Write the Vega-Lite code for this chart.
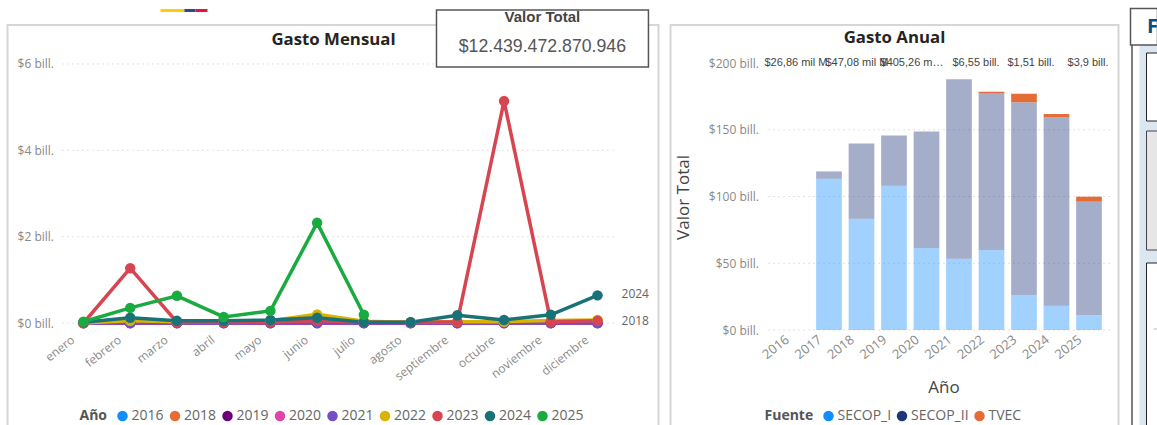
{
"$schema":"https://vega.github.io/schema/vega-lite/v6.json",
"padding":{"left":6.5,"top":7,"right":0,"bottom":0},
"background":"white",
"spacing":10,
"resolve":{"scale":{"color":"independent","opacity":"independent","x":"independent","y":"independent"},"legend":{"color":"independent"}},
"config":{"font":"Open Sans","legend":{"symbolType":"circle","orient":"none","direction":"horizontal","titleOrient":"left","symbolSize":110,"symbolStrokeWidth":0,"labelFontSize":14,"titleFontSize":14,"titleFontWeight":"bold","labelColor":"#666666","titleColor":"#555555","columnPadding":3.5,"symbolOffset":0,"labelOffset":2,"titlePadding":8,"padding":0},"axis":{"grid":false,"domain":false,"ticks":false,"labelColor":"#888888","labelFontSize":12,"labelOverlap":false,"labelFlush":false}},
"datasets":{
"mensual":[
{"mes":1,"anio":"2016","valor":0.0},{"mes":2,"anio":"2016","valor":0.0},{"mes":3,"anio":"2016","valor":0.0},{"mes":4,"anio":"2016","valor":0.0},{"mes":5,"anio":"2016","valor":0.0},{"mes":6,"anio":"2016","valor":0.0},{"mes":7,"anio":"2016","valor":0.0},{"mes":8,"anio":"2016","valor":0.0},{"mes":9,"anio":"2016","valor":0.0},{"mes":10,"anio":"2016","valor":0.0},{"mes":11,"anio":"2016","valor":0.0},{"mes":12,"anio":"2016","valor":0.0},
{"mes":1,"anio":"2018","valor":0.0},{"mes":2,"anio":"2018","valor":0.01},{"mes":3,"anio":"2018","valor":0.01},{"mes":4,"anio":"2018","valor":0.01},{"mes":5,"anio":"2018","valor":0.01},{"mes":6,"anio":"2018","valor":0.02},{"mes":7,"anio":"2018","valor":0.01},{"mes":8,"anio":"2018","valor":0.01},{"mes":9,"anio":"2018","valor":0.02},{"mes":10,"anio":"2018","valor":0.03},{"mes":11,"anio":"2018","valor":0.03},{"mes":12,"anio":"2018","valor":0.03},
{"mes":1,"anio":"2019","valor":0.0},{"mes":2,"anio":"2019","valor":0.0},{"mes":3,"anio":"2019","valor":0.0},{"mes":4,"anio":"2019","valor":0.0},{"mes":5,"anio":"2019","valor":0.0},{"mes":6,"anio":"2019","valor":0.0},{"mes":7,"anio":"2019","valor":0.0},{"mes":8,"anio":"2019","valor":0.0},{"mes":9,"anio":"2019","valor":0.0},{"mes":10,"anio":"2019","valor":0.0},{"mes":11,"anio":"2019","valor":0.0},{"mes":12,"anio":"2019","valor":0.0},
{"mes":1,"anio":"2020","valor":0.0},{"mes":2,"anio":"2020","valor":0.0},{"mes":3,"anio":"2020","valor":0.0},{"mes":4,"anio":"2020","valor":0.0},{"mes":5,"anio":"2020","valor":0.0},{"mes":6,"anio":"2020","valor":0.0},{"mes":7,"anio":"2020","valor":0.0},{"mes":8,"anio":"2020","valor":0.0},{"mes":9,"anio":"2020","valor":0.0},{"mes":10,"anio":"2020","valor":0.0},{"mes":11,"anio":"2020","valor":0.0},{"mes":12,"anio":"2020","valor":0.0},
{"mes":1,"anio":"2021","valor":0.0},{"mes":2,"anio":"2021","valor":0.0},{"mes":3,"anio":"2021","valor":0.0},{"mes":4,"anio":"2021","valor":0.0},{"mes":5,"anio":"2021","valor":0.0},{"mes":6,"anio":"2021","valor":0.0},{"mes":7,"anio":"2021","valor":0.0},{"mes":8,"anio":"2021","valor":0.0},{"mes":9,"anio":"2021","valor":0.0},{"mes":10,"anio":"2021","valor":0.0},{"mes":11,"anio":"2021","valor":0.0},{"mes":12,"anio":"2021","valor":0.0},
{"mes":1,"anio":"2022","valor":0.0},{"mes":2,"anio":"2022","valor":0.05},{"mes":3,"anio":"2022","valor":0.03},{"mes":4,"anio":"2022","valor":0.03},{"mes":5,"anio":"2022","valor":0.05},{"mes":6,"anio":"2022","valor":0.2},{"mes":7,"anio":"2022","valor":0.04},{"mes":8,"anio":"2022","valor":0.02},{"mes":9,"anio":"2022","valor":0.03},{"mes":10,"anio":"2022","valor":0.03},{"mes":11,"anio":"2022","valor":0.06},{"mes":12,"anio":"2022","valor":0.07},
{"mes":1,"anio":"2023","valor":0.0},{"mes":2,"anio":"2023","valor":1.27},{"mes":3,"anio":"2023","valor":0.02},{"mes":4,"anio":"2023","valor":0.02},{"mes":5,"anio":"2023","valor":0.02},{"mes":6,"anio":"2023","valor":0.05},{"mes":7,"anio":"2023","valor":0.02},{"mes":8,"anio":"2023","valor":0.01},{"mes":9,"anio":"2023","valor":0.03},{"mes":10,"anio":"2023","valor":5.14},{"mes":11,"anio":"2023","valor":0.03},{"mes":12,"anio":"2023","valor":0.05},
{"mes":1,"anio":"2024","valor":0.02},{"mes":2,"anio":"2024","valor":0.12},{"mes":3,"anio":"2024","valor":0.05},{"mes":4,"anio":"2024","valor":0.05},{"mes":5,"anio":"2024","valor":0.07},{"mes":6,"anio":"2024","valor":0.12},{"mes":7,"anio":"2024","valor":0.02},{"mes":8,"anio":"2024","valor":0.02},{"mes":9,"anio":"2024","valor":0.18},{"mes":10,"anio":"2024","valor":0.07},{"mes":11,"anio":"2024","valor":0.19},{"mes":12,"anio":"2024","valor":0.64},
{"mes":1,"anio":"2025","valor":0.03},{"mes":2,"anio":"2025","valor":0.35},{"mes":3,"anio":"2025","valor":0.63},{"mes":4,"anio":"2025","valor":0.14},{"mes":5,"anio":"2025","valor":0.28},{"mes":6,"anio":"2025","valor":2.32},{"mes":7,"anio":"2025","valor":0.19}
],
"anual":[
{"anio":2016,"Fuente":"SECOP_I","valor":0.03},
{"anio":2017,"Fuente":"SECOP_I","valor":113.3},{"anio":2017,"Fuente":"SECOP_II","valor":5.5},
{"anio":2018,"Fuente":"SECOP_I","valor":83.4},{"anio":2018,"Fuente":"SECOP_II","valor":56.4},
{"anio":2019,"Fuente":"SECOP_I","valor":108},{"anio":2019,"Fuente":"SECOP_II","valor":37.8},
{"anio":2020,"Fuente":"SECOP_I","valor":61.4},{"anio":2020,"Fuente":"SECOP_II","valor":87.4},
{"anio":2021,"Fuente":"SECOP_I","valor":53.4},{"anio":2021,"Fuente":"SECOP_II","valor":134.4},
{"anio":2022,"Fuente":"SECOP_I","valor":59.9},{"anio":2022,"Fuente":"SECOP_II","valor":117.6},{"anio":2022,"Fuente":"TVEC","valor":1.0},
{"anio":2023,"Fuente":"SECOP_I","valor":26.2},{"anio":2023,"Fuente":"SECOP_II","valor":144.4},{"anio":2023,"Fuente":"TVEC","valor":6.4},
{"anio":2024,"Fuente":"SECOP_I","valor":18.2},{"anio":2024,"Fuente":"SECOP_II","valor":141.4},{"anio":2024,"Fuente":"TVEC","valor":2.2},
{"anio":2025,"Fuente":"SECOP_I","valor":11.2},{"anio":2025,"Fuente":"SECOP_II","valor":84.9},{"anio":2025,"Fuente":"TVEC","valor":3.8}
]
},
"hconcat":[
{
"width":651,"height":402,
"view":{"stroke":"#d6d6d6","strokeWidth":2,"fill":"white"},
"resolve":{"axis":{"x":"independent","y":"independent"}},
"layer":[
{"data":{"values":[{"t":0},{"t":2},{"t":4},{"t":6}]},
 "mark":{"type":"rule","stroke":"#c4c4c4","strokeDash":[1,4],"strokeWidth":1},
 "encoding":{"y":{"field":"t","type":"quantitative","axis":null,"scale":{"domain":[-2.409,6.903],"nice":false,"zero":false}},
  "x":{"datum":0.55,"type":"quantitative","axis":null,"scale":{"domain":[-0.626,13.305],"nice":false,"zero":false}},"x2":{"datum":12.37}}},
{"data":{"name":"mensual"},
 "mark":{"type":"line","strokeWidth":3.5,"point":{"size":110,"filled":true,"opacity":1}},
 "encoding":{
  "x":{"field":"mes","type":"quantitative","axis":{"title":null,"values":[1,2,3,4,5,6,7,8,9,10,11,12],"offset":-95,"labelAngle":-38,"labelAlign":"right","labelBaseline":"top","labelPadding":2,"labelOffset":-14,"labelExpr":"['enero','febrero','marzo','abril','mayo','junio','julio','agosto','septiembre','octubre','noviembre','diciembre'][datum.value-1]"}},
  "y":{"field":"valor","type":"quantitative","axis":{"title":null,"values":[0,2,4,6],"offset":-48,"labelPadding":2,"labelExpr":"'$'+datum.value+' bill.'"}},
  "color":{"field":"anio","type":"nominal","legend":{"title":"Año","legendX":72,"legendY":384},"scale":{"domain":["2016","2018","2019","2020","2021","2022","2023","2024","2025"],"range":["#118DFF","#E66C37","#6B007B","#E044A7","#744EC2","#D9B300","#D64550","#197278","#1AAB40"]}}
 }},
{"data":{"name":"mensual"},
 "transform":[{"filter":"datum.mes==12 && (datum.anio=='2024' || datum.anio=='2018')"}],
 "mark":{"type":"text","align":"left","dx":24,"dy":-1,"fontSize":12,"fill":"#666666"},
 "encoding":{"x":{"field":"mes","type":"quantitative","axis":null},"y":{"field":"valor","type":"quantitative","axis":null},"text":{"field":"anio"}}},
{"data":{"values":[{"titulo":"Gasto Mensual"}]},
 "mark":{"type":"text","fontSize":16.8,"fontWeight":"bold","fill":"#252423"},
 "encoding":{"x":{"datum":6.35,"type":"quantitative","axis":null},"y":{"datum":6.56,"type":"quantitative","axis":null},"text":{"field":"titulo"}}},
{"data":{"values":[{}]},"mark":{"type":"rect","fill":"#FFCD00"},
 "encoding":{"x":{"datum":2.648,"type":"quantitative","axis":null},"x2":{"datum":3.161},"y":{"datum":7.274,"type":"quantitative","axis":null},"y2":{"datum":7.204}}},
{"data":{"values":[{}]},"mark":{"type":"rect","fill":"#2C4A8C"},
 "encoding":{"x":{"datum":3.161,"type":"quantitative","axis":null},"x2":{"datum":3.397},"y":{"datum":7.274,"type":"quantitative","axis":null},"y2":{"datum":7.204}}},
{"data":{"values":[{}]},"mark":{"type":"rect","fill":"#E0193C"},
 "encoding":{"x":{"datum":3.397,"type":"quantitative","axis":null},"x2":{"datum":3.654},"y":{"datum":7.274,"type":"quantitative","axis":null},"y2":{"datum":7.204}}},
{"data":{"values":[{}]},"mark":{"type":"rect","fill":"white","stroke":"#555555","strokeWidth":1.5},
 "encoding":{"x":{"datum":8.554,"type":"quantitative","axis":null},"x2":{"datum":13.09},"y":{"datum":7.25,"type":"quantitative","axis":null},"y2":{"datum":5.93}}},
{"data":{"values":[{"etiqueta":"Valor Total"}]},
 "mark":{"type":"text","fontSize":15,"fontWeight":"bold","font":"Liberation Sans","fill":"#444444"},
 "encoding":{"x":{"datum":10.82,"type":"quantitative","axis":null},"y":{"datum":7.09,"type":"quantitative","axis":null},"text":{"field":"etiqueta"}}},
{"data":{"values":[{"total":"$12.439.472.870.946"}]},
 "mark":{"type":"text","fontSize":17.7,"font":"Liberation Sans","fill":"#555555"},
 "encoding":{"x":{"datum":10.82,"type":"quantitative","axis":null},"y":{"datum":6.4,"type":"quantitative","axis":null},"text":{"field":"total"}}}
]},
{
"width":448,"height":402,
"view":{"stroke":"#d6d6d6","strokeWidth":2,"fill":"white"},
"resolve":{"axis":{"x":"independent","y":"independent"}},
"layer":[
{"data":{"values":[{"t":0},{"t":50},{"t":100},{"t":150}]},
 "mark":{"type":"rule","stroke":"#c4c4c4","strokeDash":[1,4],"strokeWidth":1},
 "encoding":{"y":{"field":"t","type":"quantitative","axis":null,"scale":{"domain":[-72.66,228.5],"nice":false,"zero":false}},
  "x":{"datum":2015.14,"type":"quantitative","axis":null,"scale":{"domain":[2012.123,2025.908],"nice":false,"zero":false,"padding":0}},"x2":{"datum":2025.72}}},
{"data":{"name":"anual"},
 "mark":{"type":"bar","size":25.7},
 "encoding":{
  "x":{"field":"anio","type":"quantitative","axis":{"title":"Año","titleFontSize":17,"titleFontWeight":"normal","titleColor":"#444444","titlePadding":18,"titleX":273,"values":[2016,2017,2018,2019,2020,2021,2022,2023,2024,2025],"format":"d","offset":-96,"labelFontSize":13,"labelAngle":-38,"labelAlign":"right","labelBaseline":"top","labelPadding":2,"labelOffset":-13}},
  "y":{"field":"valor","type":"quantitative","stack":"zero","axis":{"title":"Valor Total","titleFontSize":17,"titleFontWeight":"normal","titleColor":"#444444","titlePadding":16,"titleY":172,"values":[0,50,100,150,200],"offset":-90,"labelPadding":2,"labelExpr":"'$'+datum.value+' bill.'"}},
  "color":{"field":"Fuente","type":"nominal","scale":{"domain":["SECOP_I","SECOP_II","TVEC"],"range":["#118DFF","#1F3577","#E66C37"]},"legend":{"title":"Fuente","legendX":94,"legendY":384}},
  "opacity":{"condition":{"test":"datum.Fuente==='TVEC'","value":1},"value":0.4},
  "order":{"field":"Fuente","sort":"ascending"}
 }},
{"data":{"values":[{"titulo":"Gasto Anual"}]},
 "mark":{"type":"text","fontSize":16.8,"fontWeight":"bold","fill":"#252423"},
 "encoding":{"x":{"datum":2019.015,"type":"quantitative","axis":null},"y":{"datum":218.8,"type":"quantitative","axis":null},"text":{"field":"titulo"}}},
{"data":{"values":[{"l":"$26,86 mil M"}]},"mark":{"type":"text","align":"left","fontSize":11,"font":"Liberation Sans","fill":"#444444"},
 "encoding":{"x":{"datum":2015.015,"type":"quantitative","axis":null},"y":{"datum":200,"type":"quantitative","axis":null},"text":{"field":"l"}}},
{"data":{"values":[{"l":"$47,08 mil M"}]},"mark":{"type":"text","align":"left","fontSize":11,"font":"Liberation Sans","fill":"#444444"},
 "encoding":{"x":{"datum":2016.89,"type":"quantitative","axis":null},"y":{"datum":200,"type":"quantitative","axis":null},"text":{"field":"l"}}},
{"data":{"values":[{"l":"$405,26 m…"}]},"mark":{"type":"text","align":"left","fontSize":11,"font":"Liberation Sans","fill":"#444444"},
 "encoding":{"x":{"datum":2018.585,"type":"quantitative","axis":null},"y":{"datum":200,"type":"quantitative","axis":null},"text":{"field":"l"}}},
{"data":{"values":[{"l":"$6,55 bill."}]},"mark":{"type":"text","align":"left","fontSize":11,"font":"Liberation Sans","fill":"#444444"},
 "encoding":{"x":{"datum":2020.8,"type":"quantitative","axis":null},"y":{"datum":200,"type":"quantitative","axis":null},"text":{"field":"l"}}},
{"data":{"values":[{"l":"$1,51 bill."}]},"mark":{"type":"text","align":"left","fontSize":11,"font":"Liberation Sans","fill":"#444444"},
 "encoding":{"x":{"datum":2022.49,"type":"quantitative","axis":null},"y":{"datum":200,"type":"quantitative","axis":null},"text":{"field":"l"}}},
{"data":{"values":[{"l":"$3,9 bill."}]},"mark":{"type":"text","align":"left","fontSize":11,"font":"Liberation Sans","fill":"#444444"},
 "encoding":{"x":{"datum":2024.34,"type":"quantitative","axis":null},"y":{"datum":200,"type":"quantitative","axis":null},"text":{"field":"l"}}}
]},
{
"width":27,"height":402,
"view":{"stroke":null},
"layer":[
{"data":{"values":[{}]},"mark":{"type":"rect","fill":"#DCE6F1"},
 "encoding":{"x":{"datum":1139,"type":"quantitative","axis":null,"scale":{"domain":[1130,1157],"nice":false,"zero":false}},"x2":{"datum":1157},"y":{"datum":45,"type":"quantitative","axis":null,"scale":{"domain":[427,25],"nice":false,"zero":false}},"y2":{"datum":427}}},
{"data":{"values":[{}]},"mark":{"type":"rule","stroke":"#555555","strokeWidth":1.5},
 "encoding":{"x":{"datum":1131.5,"type":"quantitative","axis":null},"y":{"datum":45,"type":"quantitative","axis":null},"y2":{"datum":427}}},
{"data":{"values":[{}]},"mark":{"type":"rect","fill":"white","stroke":"#222222"},
 "encoding":{"x":{"datum":1146,"type":"quantitative","axis":null},"x2":{"datum":1157},"y":{"datum":53,"type":"quantitative","axis":null},"y2":{"datum":121}}},
{"data":{"values":[{}]},"mark":{"type":"rect","fill":"#E6E6E6","stroke":"#444444"},
 "encoding":{"x":{"datum":1146,"type":"quantitative","axis":null},"x2":{"datum":1157},"y":{"datum":131,"type":"quantitative","axis":null},"y2":{"datum":250}}},
{"data":{"values":[{}]},"mark":{"type":"rect","fill":"white","stroke":"#222222"},
 "encoding":{"x":{"datum":1146,"type":"quantitative","axis":null},"x2":{"datum":1157},"y":{"datum":263,"type":"quantitative","axis":null},"y2":{"datum":427}}},
{"data":{"values":[{}]},"mark":{"type":"rule","stroke":"#bbbbbb"},
 "encoding":{"x":{"datum":1153,"type":"quantitative","axis":null},"x2":{"datum":1157},"y":{"datum":329,"type":"quantitative","axis":null}}},
{"data":{"values":[{}]},"mark":{"type":"rect","fill":"white","stroke":"#555555","strokeWidth":1.5},
 "encoding":{"x":{"datum":1130,"type":"quantitative","axis":null},"x2":{"datum":1157},"y":{"datum":8.5,"type":"quantitative","axis":null},"y2":{"datum":45}}},
{"data":{"values":[{"letra":"F"}]},"mark":{"type":"text","align":"left","fontSize":20,"fontWeight":"bold","fill":"#0F4C81"},
 "encoding":{"x":{"datum":1146.5,"type":"quantitative","axis":null},"y":{"datum":27,"type":"quantitative","axis":null},"text":{"field":"letra"}}}
]}
]
}
